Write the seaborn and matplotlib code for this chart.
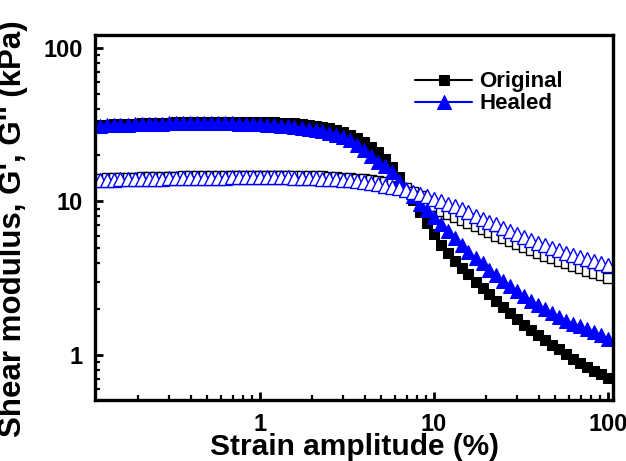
import matplotlib
matplotlib.use("Agg")
import matplotlib.pyplot as plt
import matplotlib.ticker as mticker
import seaborn as sns
import pandas as pd

strain = [0.1, 0.110, 0.120, 0.132, 0.145, 0.158, 0.174, 0.191, 0.209, 0.229,
          0.251, 0.275, 0.302, 0.331, 0.363, 0.398, 0.437, 0.479, 0.525, 0.575,
          0.631, 0.692, 0.759, 0.832, 0.912,
          1.0, 1.10, 1.20, 1.32, 1.45, 1.58, 1.74, 1.91, 2.09, 2.29,
          2.51, 2.75, 3.02, 3.31, 3.63, 3.98, 4.37, 4.79, 5.25, 5.75,
          6.31, 6.92, 7.59, 8.32, 9.12,
          10.0, 11.0, 12.0, 13.2, 14.5, 15.8, 17.4, 19.1, 20.9, 22.9,
          25.1, 27.5, 30.2, 33.1, 36.3, 39.8, 43.7, 47.9, 52.5, 57.5,
          63.1, 69.2, 75.9, 83.2, 91.2, 100.0]

original_g1 = [31.0, 31.2, 31.3, 31.5, 31.7, 31.8, 31.9, 32.0, 32.2, 32.3,
               32.4, 32.5, 32.6, 32.7, 32.7, 32.8, 32.9, 33.0, 33.0, 33.1,
               33.1, 33.1, 33.1, 33.1, 33.0,
               33.0, 32.9, 32.8, 32.6, 32.4, 32.2, 31.9, 31.6, 31.2, 30.7,
               30.0, 29.2, 28.3, 27.2, 25.9, 24.3, 22.6, 20.9, 19.0, 16.8,
               14.4, 12.3, 10.3, 8.6, 7.2,
               6.1, 5.2, 4.6, 4.1, 3.7, 3.35, 3.0, 2.75, 2.5, 2.25,
               2.05, 1.87, 1.72, 1.58, 1.46, 1.35, 1.25, 1.16, 1.09, 1.02,
               0.95, 0.89, 0.84, 0.79, 0.75, 0.71]

original_g2 = [14.0, 14.1, 14.1, 14.2, 14.2, 14.2, 14.3, 14.3, 14.4, 14.4,
               14.4, 14.5, 14.5, 14.5, 14.6, 14.6, 14.6, 14.6, 14.7, 14.7,
               14.7, 14.7, 14.7, 14.7, 14.7,
               14.7, 14.7, 14.7, 14.7, 14.7, 14.7, 14.7, 14.6, 14.6, 14.6,
               14.5, 14.4, 14.3, 14.2, 14.1, 14.0, 13.8, 13.6, 13.4, 13.1,
               12.7, 12.2, 11.6, 10.8, 10.0,
               9.3, 8.7, 8.3, 7.9, 7.6, 7.25, 6.9, 6.6, 6.3, 6.0,
               5.75, 5.5, 5.25, 5.05, 4.85, 4.65, 4.45, 4.3, 4.13, 3.98,
               3.82, 3.68, 3.55, 3.43, 3.31, 3.2]

healed_g1 = [31.0, 31.1, 31.2, 31.3, 31.4, 31.5, 31.6, 31.7, 31.8, 31.9,
             32.0, 32.1, 32.2, 32.2, 32.3, 32.3, 32.3, 32.3, 32.3, 32.3,
             32.3, 32.2, 32.1, 32.0, 31.9,
             31.8, 31.6, 31.4, 31.2, 30.9, 30.6, 30.2, 29.8, 29.3, 28.7,
             28.0, 27.2, 26.3, 25.1, 23.4, 21.6, 19.8, 18.2, 16.9, 15.5,
             13.6, 12.1, 10.8, 9.7, 8.8,
             7.9, 7.1, 6.4, 5.8, 5.2, 4.7, 4.3, 3.95, 3.6, 3.3,
             3.05, 2.82, 2.6, 2.42, 2.26, 2.12, 1.99, 1.87, 1.77, 1.68,
             1.6, 1.54, 1.48, 1.42, 1.35, 1.28]

healed_g2 = [13.6, 13.7, 13.7, 13.8, 13.8, 13.9, 13.9, 14.0, 14.0, 14.1,
             14.1, 14.1, 14.2, 14.2, 14.2, 14.3, 14.3, 14.3, 14.3, 14.3,
             14.3, 14.4, 14.4, 14.4, 14.4,
             14.4, 14.4, 14.4, 14.4, 14.4, 14.3, 14.3, 14.2, 14.2, 14.1,
             14.0, 13.9, 13.8, 13.7, 13.5, 13.3, 13.1, 12.9, 12.7, 12.5,
             12.2, 11.9, 11.6, 11.2, 10.8,
             10.4, 10.0, 9.6, 9.3, 8.9, 8.5, 8.1, 7.7, 7.4, 7.1,
             6.7, 6.4, 6.1, 5.85, 5.6, 5.4, 5.2, 5.0, 4.8, 4.63,
             4.48, 4.35, 4.2, 4.07, 3.95, 3.86]

x_ticks = [1, 10, 100]
y_ticks = [1, 10, 100]
legend_labels = ["Original", "Healed"]

sns.set_style("ticks")
plt.rcParams["font.family"] = ["Liberation Sans", "DejaVu Sans"]
plt.rcParams["font.weight"] = "bold"
plt.rcParams["text.color"] = "black"
plt.rcParams["axes.labelcolor"] = "black"
plt.rcParams["xtick.color"] = "black"
plt.rcParams["ytick.color"] = "black"
plt.rcParams["axes.edgecolor"] = "black"

fig = plt.figure(figsize=(6.26, 4.61), dpi=100)
ax = fig.add_axes([0.152, 0.132, 0.827, 0.792])

df = pd.DataFrame({"strain": strain, "og1": original_g1, "og2": original_g2,
                   "hg1": healed_g1, "hg2": healed_g2})

blue = "#0000ff"
sns.lineplot(data=df, x="strain", y="og1", ax=ax, color="black", marker="s",
             markersize=7, markerfacecolor="black", markeredgecolor="black",
             linewidth=1.5, label=legend_labels[0])
sns.lineplot(data=df, x="strain", y="og2", ax=ax, color="black", marker="s",
             markersize=7, markerfacecolor="white", markeredgecolor="black",
             markeredgewidth=1.0, linewidth=1.5, label="_nolegend_")
sns.lineplot(data=df, x="strain", y="hg1", ax=ax, color=blue, marker="^",
             markersize=9.5, markerfacecolor=blue, markeredgecolor=blue,
             linewidth=1.5, label=legend_labels[1])
sns.lineplot(data=df, x="strain", y="hg2", ax=ax, color=blue, marker="^",
             markersize=9.5, markerfacecolor="white", markeredgecolor=blue,
             markeredgewidth=1.0, linewidth=1.5, label="_nolegend_")

ax.set_xscale("log")
ax.set_yscale("log")
ax.set_xlim(0.113, 107)
ax.set_ylim(0.51, 121)

ax.xaxis.set_major_locator(mticker.FixedLocator(x_ticks))
ax.yaxis.set_major_locator(mticker.FixedLocator(y_ticks))
ax.xaxis.set_major_formatter(mticker.FuncFormatter(lambda v, _: f"{v:g}"))
ax.yaxis.set_major_formatter(mticker.FuncFormatter(lambda v, _: f"{v:g}"))
ax.xaxis.set_minor_locator(mticker.LogLocator(base=10, subs=range(2, 10)))
ax.yaxis.set_minor_locator(mticker.LogLocator(base=10, subs=range(2, 10)))
ax.xaxis.set_minor_formatter(mticker.NullFormatter())
ax.yaxis.set_minor_formatter(mticker.NullFormatter())

ax.tick_params(which="major", direction="in", length=6, width=2.0,
               labelsize=17, pad=9, bottom=True, left=True, top=False, right=False,
               colors="black")
ax.tick_params(which="minor", direction="in", length=3.5, width=1.6,
               bottom=True, left=True, top=False, right=False, colors="black")
for lab in ax.get_xticklabels() + ax.get_yticklabels():
    lab.set_fontweight("bold")

for s in ax.spines.values():
    s.set_linewidth(2.4)
    s.set_color("black")
    s.set_visible(True)

ax.set_xlabel("Strain amplitude (%)", fontsize=21.5, fontweight="bold", labelpad=-2)
ax.set_ylabel("Shear modulus, G', G'' (kPa)", fontsize=22.5, fontweight="bold")
ax.yaxis.set_label_coords(-0.13, 0.47)

leg = ax.legend(loc="upper left", bbox_to_anchor=(0.60, 0.925), frameon=False,
                fontsize=16, handlelength=2.6, handletextpad=0.3,
                labelspacing=0.05, borderaxespad=0)
for t in leg.get_texts():
    t.set_fontweight("bold")
    t.set_color("black")

fig.savefig("out.png", dpi=100)
